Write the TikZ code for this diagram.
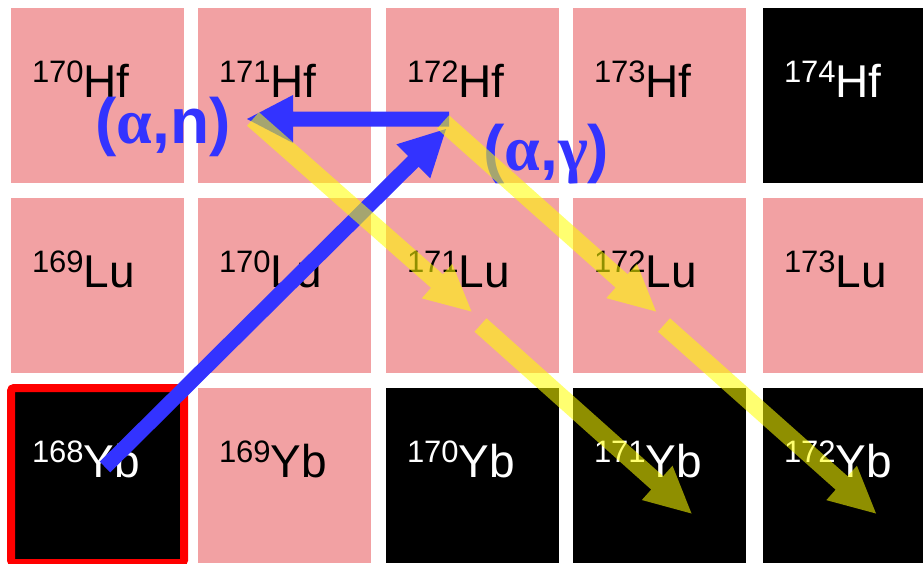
\documentclass[tikz,border=0pt]{standalone}
\usepackage{fontspec}
\setmainfont{Liberation Sans}
\newfontfamily\grkfont{Liberation Serif}
\usetikzlibrary{calc}
\definecolor{nucpink}{RGB}{242,161,163}
\definecolor{rxblue}{RGB}{51,51,255}
\definecolor{rxyellow}{RGB}{255,255,0}
\newcommand\mynuc[2]{\raisebox{15pt}{\fontsize{31}{31}\selectfont #1}\fontsize{46}{46}\selectfont #2}
% #1 style, #2 start, #3 tip, #4 half shaft width, #5 head length, #6 half head width
\newcommand\fatarrow[6]{%
  \coordinate (fahb) at ($(#3)!#5!(#2)$);
  \fill[#1] ($(#2)!#4!90:(#3)$) -- ($(fahb)!#4!90:(#3)$) -- ($(fahb)!#6!90:(#3)$)
    -- (#3) -- ($(fahb)!#6!-90:(#3)$) -- ($(fahb)!#4!-90:(#3)$) -- ($(#2)!#4!-90:(#3)$) -- cycle;}
\begin{document}
\begin{tikzpicture}[x=1pt,y=-1pt,
  box/.style={anchor=north west, minimum width=173pt, minimum height=175pt, inner sep=0pt, outer sep=0pt, draw=none},
  stable/.style={box, fill=black},
  unstable/.style={box, fill=nucpink},
  nuclbl/.style={anchor=base west, inner sep=0pt, outer sep=0pt},
  rxlbl/.style={anchor=base west, inner sep=0pt, text=rxblue, font=\bfseries\fontsize{64}{64}\selectfont},
  bluearrow/.style={fill=rxblue},
  yelarrow/.style={fill=rxyellow, fill opacity=0.56}
]
\useasboundingbox (0,0) rectangle (923,563);
\clip (0,0) rectangle (923,563);
\fill[white] (0,0) rectangle (923,563);
\foreach \nm/\x/\y/\st/\tc/\A/\el in {
  Hf170/11/8/unstable/black/170/Hf,
  Hf171/198/8/unstable/black/171/Hf,
  Hf172/386/8/unstable/black/172/Hf,
  Hf173/573/8/unstable/black/173/Hf,
  Hf174/763/8/stable/white/174/Hf,
  Lu169/11/198/unstable/black/169/Lu,
  Lu170/198/198/unstable/black/170/Lu,
  Lu171/386/198/unstable/black/171/Lu,
  Lu172/573/198/unstable/black/172/Lu,
  Lu173/763/198/unstable/black/173/Lu,
  Yb168/11/388/stable/white/168/Yb,
  Yb169/198/388/unstable/black/169/Yb,
  Yb170/386/388/stable/white/170/Yb,
  Yb171/573/388/stable/white/171/Yb,
  Yb172/763/388/stable/white/172/Yb}{
  \node[\st] (\nm) at (\x,\y) {};
  \node[nuclbl, text=\tc] (\nm-t) at ($(\nm.north west)+(21,89)$) {\mynuc{\A}{\el}};
}
\draw[red, line width=8pt, rounded corners=3pt] (Yb168.north west) rectangle (Yb168.south east);
% reaction labels
\node[rxlbl] (an) at (95,143) {({\grkfont α},n)};
\node[rxlbl] (ag) at (483,170) {({\grkfont α},{\grkfont γ})};
% blue arrows
\coordinate (bStart) at (105,467);
\coordinate (bTip) at (446,129);
\coordinate (hStart) at (449,119);
\coordinate (hTip) at (247,119);
\fatarrow{bluearrow}{bStart}{bTip}{7.5pt}{46pt}{24pt}
\fatarrow{bluearrow}{hStart}{hTip}{7.5pt}{46pt}{24pt}
% yellow decay arrows
\coordinate (a1s) at (253,119);
\coordinate (a1e) at (471.5,311.5);
\coordinate (a2s) at (480.5,325);
\coordinate (a2e) at (691.5,513.5);
\coordinate (b1s) at (443,122);
\coordinate (b1e) at (656,311.5);
\coordinate (b2s) at (664,325);
\coordinate (b2e) at (876,513.5);
\fatarrow{yelarrow}{a1s}{a1e}{9pt}{46pt}{23pt}
\fatarrow{yelarrow}{a2s}{a2e}{9pt}{46pt}{23pt}
\fatarrow{yelarrow}{b1s}{b1e}{9pt}{46pt}{23pt}
\fatarrow{yelarrow}{b2s}{b2e}{9pt}{46pt}{23pt}
\end{tikzpicture}
\end{document}
